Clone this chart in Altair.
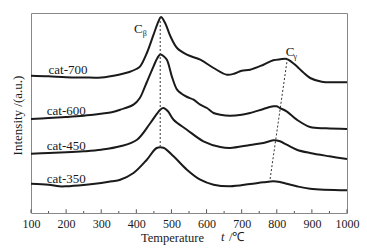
import altair as alt
import pandas as pd

# ---- data (intensity in arbitrary, offset units) ----
t_700 = [100,150,200,250,300,350,380,400,411,430,449,463,470,482,497,516,544,582,620,658,680,700,724,762,790,810,828,840,857,875,895,928,960,1000]
i_700 = [137.3,136.7,135.7,135.5,135.5,138.3,141,144,146.7,160,178.3,191.7,196,190,176.7,165,158.3,153.3,145,138.3,139.5,142.3,143.3,148.3,152.7,153.7,154,151.7,146.7,140.7,135,131.3,130.7,130.7]

t_600 = [100,150,200,250,300,330,354,392,410,421,430,449,460,468,477,487,501,516,530,545,563,582,601,620,639,667,700,724,762,790,800,809,828,857,895,940,1000]
i_600 = [94,95,96,97.3,99.3,100.7,103.3,108.3,115,123.3,131,146.7,155,158.5,157,153.3,136.7,123.3,119,116,113.3,108.3,105,100,98.3,97.3,98.3,100,104,106.7,106.7,105,101.7,93.3,86,84.7,84]

t_450 = [100,150,200,250,300,354,402,440,468,477,490,506,544,591,639,667,724,762,790,809,828,857,895,950,1000]
i_450 = [59.3,60,60.7,61.7,63.3,66.7,73.3,90,103.3,105,101.7,93.3,83.3,71.7,66,65,68,70,72.7,71.7,68.3,63.3,60,56.7,54]

t_350 = [100,150,180,200,250,300,330,354,392,430,458,477,506,544,582,620,667,724,762,790,809,828,857,895,1000]
i_350 = [29.3,28.3,26.7,26.7,28,30,31.7,33.3,40,53.3,65,65.3,56.7,43.3,33.3,28.3,26.7,29,30.7,31.7,31,29.3,26.7,24.3,22.7]

series_names = ["cat-700", "cat-600", "cat-450", "cat-350"]
label_t = [150, 145, 145, 145]
label_i = [143.3, 102.3, 67.3, 34.3]

# guide lines (C_beta, C_gamma)
cb_t = [468, 468]
cb_i = [196, 66.7]
cg_t = [830, 781]
cg_i = [154, 34]

x_ticks = [100, 200, 300, 400, 500, 600, 700, 800, 900, 1000]
x_minor = [150, 250, 350, 450, 550, 650, 750, 850, 950]

FONT = "Liberation Serif"
INK = "#1a1a1a"

rows = []
for name, ts, vs in [("cat-700", t_700, i_700), ("cat-600", t_600, i_600),
                     ("cat-450", t_450, i_450), ("cat-350", t_350, i_350)]:
    for t, v in zip(ts, vs):
        rows.append({"series": name, "T": t, "I": v})
curves = pd.DataFrame(rows)

labels = pd.DataFrame({"name": series_names, "T": label_t, "I": label_i})
guides = pd.DataFrame({"g": ["b", "b", "g", "g"], "T": cb_t + cg_t, "I": cb_i + cg_i})
ticks = pd.DataFrame({"T": x_ticks + x_minor, "I": [0] * (len(x_ticks) + len(x_minor)),
                      "I2": [3.7] * len(x_ticks) + [2] * len(x_minor)})

x_scale = alt.Scale(domain=[100, 1000], nice=False, zero=False)
y_scale = alt.Scale(domain=[0, 200], nice=False, zero=False)

x_enc = alt.X("T:Q", scale=x_scale, axis=alt.Axis(
    values=x_ticks, format="d", title="Temperature", ticks=False, domain=False, grid=False,
    labelFont=FONT, labelFontSize=12, labelColor=INK, labelPadding=10,
    labelBaseline="middle", labelFlush=False,
    titleFont=FONT, titleFontSize=12.5, titleFontWeight="normal", titleColor=INK,
    titleX=141, titleY=28, titleBaseline="alphabetic", titleAlign="center"))
y_enc = alt.Y("I:Q", scale=y_scale, axis=alt.Axis(
    title="Intensity /(a.u.)", labels=False, ticks=False, domain=False, grid=False,
    titleFont=FONT, titleFontSize=13, titleFontWeight="normal", titleColor=INK,
    titleX=-10, titleY=102, titleAngle=270, titleBaseline="alphabetic", titleAlign="center"))

lines = alt.Chart(curves).mark_line(color=INK, strokeWidth=2, interpolate="catmull-rom").encode(
    x=x_enc, y=y_enc, detail="series:N")

guide_lines = alt.Chart(guides).mark_line(color="#333", strokeWidth=1, strokeDash=[2, 2]).encode(
    x=x_enc, y=y_enc, detail="g:N")

tick_rules = alt.Chart(ticks).mark_rule(color="#555", strokeWidth=1).encode(
    x=x_enc, y=y_enc, y2="I2:Q")

name_text = alt.Chart(labels).mark_text(font=FONT, fontSize=13, color=INK, align="left",
                                        baseline="middle").encode(
    x=x_enc, y=y_enc, text="name:N")

ann = pd.DataFrame({"txt": ["C", "β", "C", "γ"], "T": [406, 424, 838, 853],
                    "I": [184, 179.5, 161, 156.5], "size": [13, 8, 13, 8]})
ann_text = alt.Chart(ann).mark_text(font=FONT, color=INK, align="center", baseline="middle").encode(
    x=x_enc, y=y_enc, text="txt:N", size=alt.Size("size:Q", scale=None, legend=None))

t_italic = alt.Chart(pd.DataFrame({"s": ["t"]})).mark_text(
    font=FONT, fontSize=12.5, fontStyle="italic", color=INK, align="left", baseline="alphabetic"
).encode(x=alt.value(190), y=alt.value(228), text="s:N")
t_unit = alt.Chart(pd.DataFrame({"s": ["/℃"]})).mark_text(
    font=FONT, fontSize=12.5, color=INK, align="left", baseline="alphabetic"
).encode(x=alt.value(198), y=alt.value(228), text="s:N")

chart = alt.layer(lines, guide_lines, tick_rules, name_text, ann_text, t_italic, t_unit).properties(
    width=316, height=200,
    autosize=alt.AutoSizeParams(type="none"),
    padding={"left": 31, "top": 13, "right": 20, "bottom": 39},
    background="white",
).configure_view(stroke="#888", strokeWidth=1)

chart.save("out.html", embed_options={"renderer": "svg", "actions": False})
